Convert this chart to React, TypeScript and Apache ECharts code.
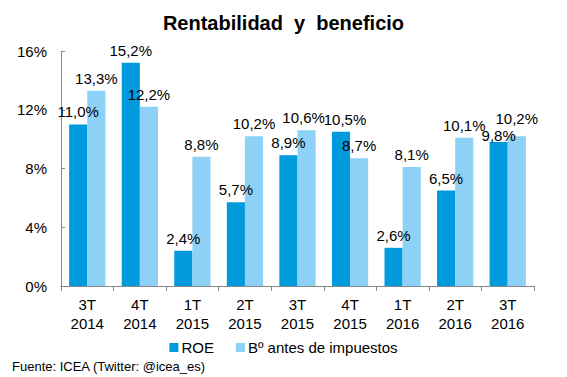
import React, { useEffect, useRef } from "react";
import * as echarts from "echarts";

const categories = ["3T\n2014", "4T\n2014", "1T\n2015", "2T\n2015", "3T\n2015", "4T\n2015", "1T\n2016", "2T\n2016", "3T\n2016"];
const roe = [11.0, 15.2, 2.4, 5.7, 8.9, 10.5, 2.6, 6.5, 9.8];
const beneficio = [13.3, 12.2, 8.8, 10.2, 10.6, 8.7, 8.1, 10.1, 10.2];
const yTicks = [0, 4, 8, 12, 16];

// small label nudges (style only) to mimic the reference's de-overlapped labels
const roeLabelNudge: Record<number, number[]> = { 5: [4, 0], 8: [0, 6] };
const benLabelNudge: Record<number, number[]> = { 4: [-3, 0], 8: [0, -5] };

const FONT = '"Liberation Sans", Arial, sans-serif';

export default function App() {
  const ref = useRef<HTMLDivElement>(null);
  useEffect(() => {
    if (!ref.current) return;
    const chart = echarts.init(ref.current, null, { renderer: "svg" });
    const fmt = (p: any) => p.value.toFixed(1).replace(".", ",") + "%";
    const roeData = roe.map((v, i) => (roeLabelNudge[i] ? { value: v, label: { offset: roeLabelNudge[i] } } : v));
    const benData = beneficio.map((v, i) => (benLabelNudge[i] ? { value: v, label: { offset: benLabelNudge[i] } } : v));
    const labelStyle = { show: true, position: "top", distance: 5, formatter: fmt, fontSize: 15, color: "#000", fontFamily: FONT };
    chart.setOption({
      animation: false,
      backgroundColor: "#ffffff",
      textStyle: { fontFamily: FONT },
      title: {
        text: "Rentabilidad  y  beneficio",
        left: "center",
        top: 8,
        textStyle: { fontSize: 20, fontWeight: "bold", color: "#000", fontFamily: FONT },
      },
      grid: { left: 61, right: 33, top: 51, bottom: 91, containLabel: false },
      legend: {
        bottom: 17,
        left: "center",
        itemWidth: 9,
        itemHeight: 9,
        itemGap: 22,
        icon: "rect",
        textStyle: { fontSize: 15, color: "#000", fontFamily: FONT, padding: [0, 0, 0, -2] },
        data: ["ROE", "Bº antes de impuestos"],
      },
      graphic: [
        {
          type: "text",
          left: 12,
          top: 360,
          style: { text: "Fuente: ICEA (Twitter: @icea_es)", fontSize: 13, fill: "#000", fontFamily: FONT },
        },
      ],
      xAxis: {
        type: "category",
        data: categories,
        axisLine: { lineStyle: { color: "#888", width: 1 } },
        axisTick: { show: true, length: 5, lineStyle: { color: "#888" } },
        axisLabel: { fontSize: 15, color: "#000", lineHeight: 19, margin: 9, fontFamily: FONT },
      },
      yAxis: {
        type: "value",
        min: yTicks[0],
        max: yTicks[yTicks.length - 1],
        interval: 4,
        splitLine: { show: false },
        axisLine: { show: true, lineStyle: { color: "#888", width: 1 } },
        axisTick: { show: true, inside: true, length: 4, lineStyle: { color: "#888" } },
        axisLabel: { fontSize: 15, color: "#000", margin: 14, formatter: "{value}%", fontFamily: FONT },
      },
      series: [
        {
          name: "ROE",
          type: "bar",
          data: roeData,
          barGap: "0%",
          barCategoryGap: "31%",
          itemStyle: { color: "#009ADD" },
          label: labelStyle,
        },
        {
          name: "Bº antes de impuestos",
          type: "bar",
          data: benData,
          itemStyle: { color: "#8ED1F6" },
          label: labelStyle,
        },
      ],
    });
    return () => chart.dispose();
  }, []);
  return <div ref={ref} style={{ width: 567, height: 377, position: "absolute", left: 0, top: 0 }} />;
}
